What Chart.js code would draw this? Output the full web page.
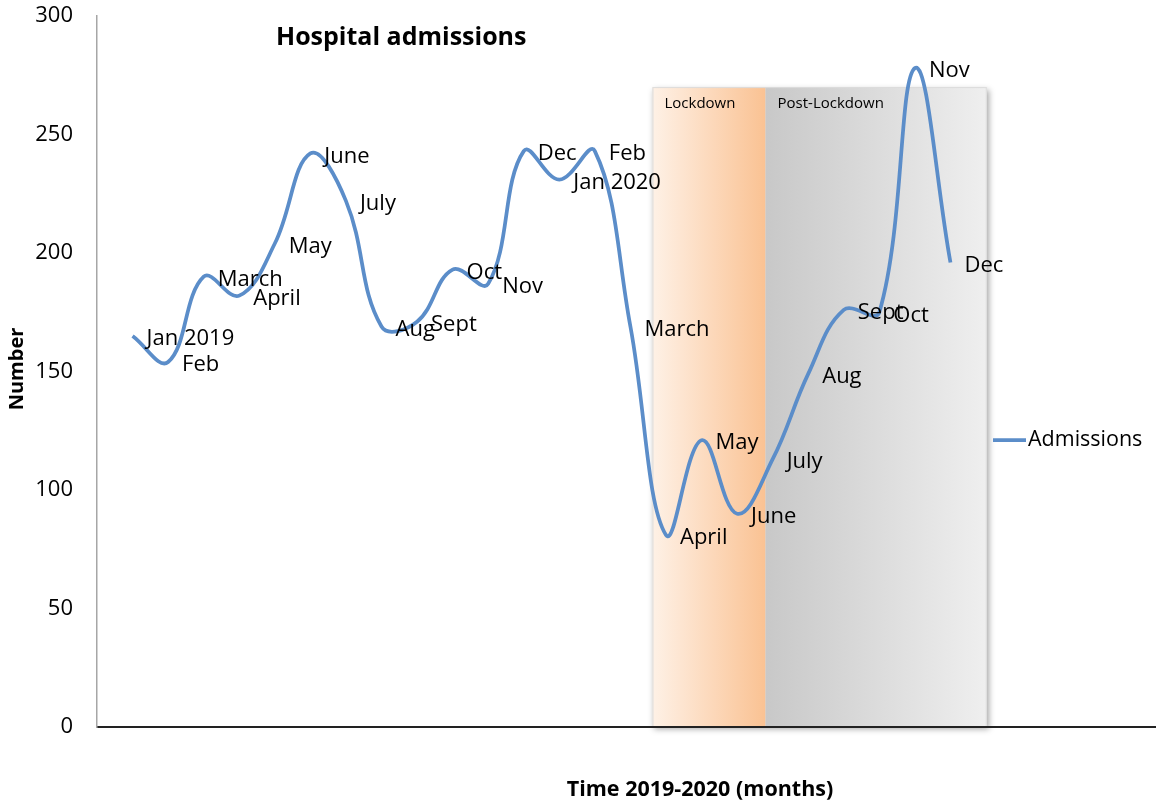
<!DOCTYPE html>
<html>
<head>
<meta charset="utf-8">
<script src="https://cdn.jsdelivr.net/npm/chart.js@4.4.1/dist/chart.umd.min.js"></script>
<style>
  html, body { margin: 0; padding: 0; background: #ffffff; }
  #wrap { width: 1156px; height: 805px; }
</style>
</head>
<body>
<div id="wrap"><canvas id="c" width="1156" height="805"></canvas></div>
<script>
// Monthly hospital admissions, Jan 2019 - Dec 2020
const months = ['Jan 2019', 'Feb', 'March', 'April', 'May', 'June', 'July', 'Aug', 'Sept', 'Oct', 'Nov', 'Dec',
                'Jan 2020', 'Feb', 'March', 'April', 'May', 'June', 'July', 'Aug', 'Sept', 'Oct', 'Nov', 'Dec'];
const admissions = [165, 154, 190, 182, 204, 242, 222, 169, 171, 193, 187, 243,
                    231, 243, 169, 81, 121, 90, 113, 149, 176, 175, 278, 196];
const yTicks = [0, 50, 100, 150, 200, 250, 300];

// Lockdown periods, in month-index units along the time axis
const phaseNames = ['Lockdown', 'Post-Lockdown'];
const phaseStart = [14.62, 17.8];
const phaseEnd = [17.8, 24.02];
const phaseTop = 270;

const FONT = '"Open Sans", "Liberation Sans", sans-serif';
const LINE_COLOR = '#5B8DC9';

const points = admissions.map((v, i) => ({ x: i, y: v }));

// Shaded lockdown / post-lockdown panels behind the line
const phasePanels = {
  id: 'phasePanels',
  beforeDraw(chart) {
    const { ctx, scales: { x, y } } = chart;
    const top = y.getPixelForValue(phaseTop);
    const bottom = y.getPixelForValue(0) - 1;
    const left = x.getPixelForValue(phaseStart[0]);
    const right = x.getPixelForValue(phaseEnd[phaseEnd.length - 1]);
    ctx.save();
    ctx.shadowColor = 'rgba(0,0,0,0.35)';
    ctx.shadowBlur = 6;
    ctx.shadowOffsetX = 2;
    ctx.shadowOffsetY = 3;
    ctx.fillStyle = '#e6e6e6';
    ctx.fillRect(left, top, right - left, bottom - top);
    ctx.restore();

    const stops = [
      ['#FEF1E6', '#FAC293'],
      ['#C8C8C8', '#EFEFEF']
    ];
    phaseNames.forEach((name, i) => {
      const l = x.getPixelForValue(phaseStart[i]);
      const r = x.getPixelForValue(phaseEnd[i]);
      const g = ctx.createLinearGradient(l, 0, r, 0);
      g.addColorStop(0, stops[i][0]);
      g.addColorStop(1, stops[i][1]);
      ctx.save();
      ctx.fillStyle = g;
      ctx.fillRect(l, top, r - l, bottom - top);
      ctx.fillStyle = '#000000';
      ctx.font = '15px ' + FONT;
      ctx.textAlign = 'left';
      ctx.textBaseline = 'middle';
      ctx.fillText(name, l + 12, top + 17);
      ctx.restore();
    });
    ctx.save();
    ctx.strokeStyle = '#dcdcdc';
    ctx.lineWidth = 1;
    ctx.strokeRect(left + 0.5, top + 0.5, right - left - 1, bottom - top);
    ctx.restore();
  }
};

// Month names next to every point
const monthLabels = {
  id: 'monthLabels',
  afterDatasetsDraw(chart) {
    const { ctx } = chart;
    const meta = chart.getDatasetMeta(0);
    ctx.save();
    ctx.font = '22px ' + FONT;
    ctx.fillStyle = '#000000';
    ctx.textAlign = 'left';
    ctx.textBaseline = 'middle';
    meta.data.forEach((pt, i) => {
      ctx.fillText(months[i], pt.x + 14, pt.y + 3);
    });
    ctx.restore();
  }
};

// Title, axis titles and legend
const annotations = {
  id: 'annotations',
  afterDraw(chart) {
    const { ctx } = chart;
    const ds = chart.data.datasets[0];
    ctx.save();
    ctx.fillStyle = '#000000';
    ctx.textBaseline = 'middle';

    ctx.font = 'bold 25px ' + FONT;
    ctx.textAlign = 'left';
    ctx.fillText('Hospital admissions', 276, 38);

    ctx.font = 'bold 21.5px ' + FONT;
    ctx.textAlign = 'center';
    ctx.fillText('Time 2019-2020 (months)', 700, 790);

    ctx.font = 'bold 20px ' + FONT;
    ctx.save();
    ctx.translate(17, 369);
    ctx.rotate(-Math.PI / 2);
    ctx.fillText('Number', 0, 0);
    ctx.restore();

    // legend
    const ly = 440;
    ctx.strokeStyle = ds.borderColor;
    ctx.lineWidth = 3.75;
    ctx.beginPath();
    ctx.moveTo(993, ly);
    ctx.lineTo(1026, ly);
    ctx.stroke();
    ctx.font = '21.5px ' + FONT;
    ctx.textAlign = 'left';
    ctx.fillText(ds.label, 1028, ly);
    ctx.restore();
  }
};

new Chart(document.getElementById('c'), {
  type: 'line',
  data: {
    datasets: [{
      label: 'Admissions',
      data: points,
      borderColor: LINE_COLOR,
      backgroundColor: LINE_COLOR,
      borderWidth: 3.75,
      pointRadius: 0,
      pointHoverRadius: 0,
      tension: 0.4,
      fill: false
    }]
  },
  options: {
    responsive: false,
    animation: false,
    devicePixelRatio: 1,
    layout: { padding: { top: 16, right: 0, left: 0, bottom: 0 } },
    plugins: {
      legend: { display: false },
      tooltip: { enabled: false },
      title: { display: false }
    },
    scales: {
      x: {
        type: 'linear',
        min: -1,
        max: 28.78,
        grid: { display: false, drawTicks: false },
        border: { display: true, color: '#222222', width: 2 },
        ticks: { display: false },
        afterFit(scale) {
          scale.height = 78;
          scale.paddingLeft = 0;
          scale.paddingRight = 0;
        }
      },
      y: {
        min: 0,
        max: 300,
        grid: { display: false, drawTicks: false },
        border: { display: true, color: '#a6a6a6', width: 1.5 },
        ticks: {
          padding: 24,
          color: '#000000',
          font: { family: FONT, size: 22 }
        },
        afterBuildTicks(scale) { scale.ticks = yTicks.map(v => ({ value: v })); },
        afterFit(scale) {
          scale.width = 97;
          scale.paddingTop = 0;
          scale.paddingBottom = 0;
        }
      }
    }
  },
  plugins: [phasePanels, monthLabels, annotations]
});
</script>
</body>
</html>
